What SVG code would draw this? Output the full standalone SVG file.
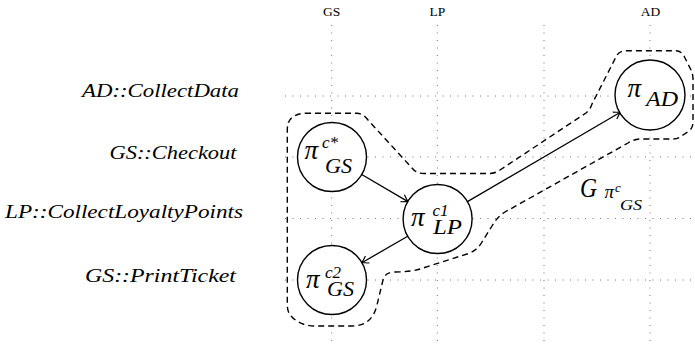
<svg xmlns="http://www.w3.org/2000/svg" width="695" height="347" viewBox="0 0 695 347">
<style>
.grid{stroke:#666;stroke-width:0.9;stroke-dasharray:1,6.5;fill:none}
.node circle{fill:#fff;stroke:#000;stroke-width:1.4}
.edge{stroke:#000;stroke-width:1.3;fill:none;marker-end:url(#arr)}
.hull{stroke:#000;stroke-width:1.4;fill:none;stroke-dasharray:6,4}
text{font-family:'Liberation Serif','DejaVu Serif',serif;fill:#000}
.hdr{font-size:13.5px;text-anchor:middle}
.row{font-style:italic;font-size:19px;text-anchor:end}
.m{font-style:italic}
</style>
<defs>
<marker id="arr" markerWidth="12" markerHeight="12" viewBox="-8 -6 10 12" refX="0" refY="0" orient="auto" markerUnits="userSpaceOnUse">
<path d="M -6.5,-4 Q -2,-1 0,0 Q -2,1 -6.5,4" fill="none" stroke="#000" stroke-width="1.2"/>
</marker>
</defs>
<rect width="695" height="347" fill="#fff"/>
<g id="grid">
<line class="grid" x1="331.7" y1="25" x2="331.7" y2="347"/>
<line class="grid" x1="437.3" y1="25" x2="437.3" y2="347"/>
<line class="grid" x1="544" y1="25" x2="544" y2="347"/>
<line class="grid" x1="650" y1="25" x2="650" y2="347"/>
<line class="grid" x1="285" y1="96" x2="695" y2="96"/>
<line class="grid" x1="285" y1="157" x2="695" y2="157"/>
<line class="grid" x1="285" y1="218.5" x2="695" y2="218.5"/>
<line class="grid" x1="285" y1="280" x2="695" y2="280"/>
</g>
<g id="headers">
<text class="hdr" x="331.7" y="16">GS</text>
<text class="hdr" x="437.3" y="16">LP</text>
<text class="hdr" x="650.5" y="16">AD</text>
</g>
<g id="rows">
<text class="row" x="239" y="97" textLength="157" lengthAdjust="spacingAndGlyphs">AD::CollectData</text>
<text class="row" x="236.5" y="159" textLength="127" lengthAdjust="spacingAndGlyphs">GS::Checkout</text>
<text class="row" x="243" y="218" textLength="238" lengthAdjust="spacingAndGlyphs">LP::CollectLoyaltyPoints</text>
<text class="row" x="236" y="281.5" textLength="151" lengthAdjust="spacingAndGlyphs">GS::PrintTicket</text>
</g>
<g id="hull">
<path class="hull" d="M 305,113.3 L 357,113.3 Q 363,113.3 368,120 L 412,168 Q 416,173.5 424,173.5 L 489,173.5 Q 495,173.5 500,170 L 586,113 Q 590,110 592,104 L 617,55 Q 620,50.7 626,50.7 L 676,50.7 Q 681,50.7 684,56 L 691,70 Q 693,74 693,79 L 693,122 Q 693,128 689,131 L 683,135 Q 679,139 673,139 L 641,139 Q 634,139 628,143 L 505,212 Q 497,217 492,226 L 482,242 Q 477,251 467,254 L 420,269 Q 410,272 395,272 Q 385,272 383,280 L 377,305 Q 372,326 352,326 L 315,326 Q 300,326 291,316 Q 287.3,312 287.3,305 L 287.3,130 Q 287.3,120 293,117 Q 298,113.3 305,113.3 Z"/>
</g>
<g id="edges">
<line class="edge" x1="361.3" y1="174.2" x2="408" y2="201.6"/>
<line class="edge" x1="467" y1="201.9" x2="620.4" y2="112.2"/>
<line class="edge" x1="408.1" y1="236" x2="361.8" y2="262.8"/>
</g>
<g id="n_gs_cstar" class="node">
<circle cx="332" cy="157" r="34.5"/>
<text class="m"><tspan x="304.5" y="158.7" font-size="27">π</tspan><tspan x="322" y="148" font-size="17">c*</tspan><tspan x="325" y="172.5" font-size="20" textLength="27" lengthAdjust="spacingAndGlyphs">GS</tspan></text>
</g>
<g id="n_lp_c1" class="node">
<circle cx="437.6" cy="219" r="34.5"/>
<text class="m"><tspan x="411" y="226.3" font-size="27">π</tspan><tspan x="432.5" y="215.5" font-size="17">c1</tspan><tspan x="433" y="233.5" font-size="20" textLength="29" lengthAdjust="spacingAndGlyphs">LP</tspan></text>
</g>
<g id="n_gs_c2" class="node">
<circle cx="332" cy="280" r="34.5"/>
<text class="m"><tspan x="306" y="288.3" font-size="27">π</tspan><tspan x="325" y="277.5" font-size="17">c2</tspan><tspan x="327" y="295.5" font-size="20" textLength="27" lengthAdjust="spacingAndGlyphs">GS</tspan></text>
</g>
<g id="n_ad" class="node">
<circle cx="650" cy="95" r="35"/>
<text class="m"><tspan x="627.5" y="96.7" font-size="27">π</tspan><tspan x="646" y="106" font-size="21" textLength="32" lengthAdjust="spacingAndGlyphs">AD</tspan></text>
</g>
<g id="label">
<text class="m"><tspan x="580" y="196.7" font-size="28" textLength="17" lengthAdjust="spacingAndGlyphs">G</tspan><tspan x="604.5" y="198.3" font-size="19">π</tspan><tspan x="615" y="191.5" font-size="13">c</tspan><tspan x="620" y="210" font-size="15" textLength="22" lengthAdjust="spacingAndGlyphs">GS</tspan></text>
</g>
</svg>
